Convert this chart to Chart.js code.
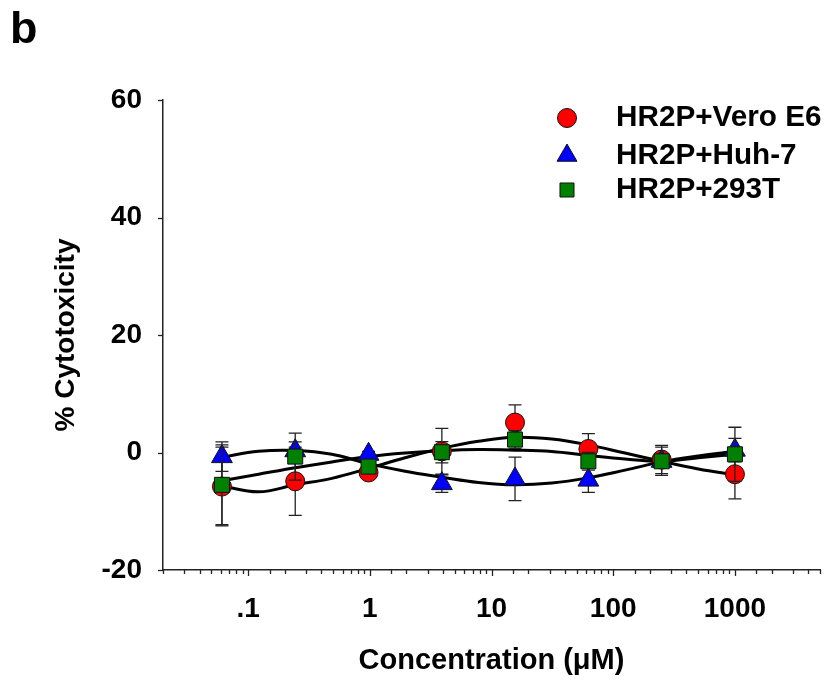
<!DOCTYPE html>
<html>
<head>
<meta charset="utf-8">
<script src="https://cdn.jsdelivr.net/npm/chart.js@4.4.1/dist/chart.umd.min.js"></script>
<style>
html,body{margin:0;padding:0;background:#fff;}
#wrap{position:relative;width:827px;height:681px;}
canvas{display:block;}
</style>
</head>
<body>
<div id="wrap"><canvas id="c" width="827" height="681"></canvas></div>
<script>
// ---------- data ----------
const panelLabel = 'b';
const concentrations = [0.061, 0.244, 0.977, 3.91, 15.6, 62.5, 250, 1000];

const seriesNames = ['HR2P+Vero E6', 'HR2P+Huh-7', 'HR2P+293T'];
const veroValues  = [-5.8, -4.9, -3.4, 0.2, 5.1, 0.6, -1.2, -3.7];
const veroErrors  = [6.7, 5.8, 0.8, 3.9, 3.0, 2.6, 2.4, 4.2];
const huhValues   = [-0.7, 0.3, -0.3, -5.3, -4.5, -4.7, -1.5, 0.4];
const huhErrors   = [2.5, 1.5, 0.5, 1.5, 3.7, 2.1, 1.0, 2.0];
const t293Values  = [-5.5, -0.7, -2.4, 0.05, 2.2, -1.5, -1.5, -0.3];
const t293Errors  = [6.8, 4.0, 1.0, 1.8, 1.5, 1.5, 2.4, 4.6];

// fitted curves
const fitX      = [0.061, 0.122, 0.244, 0.488, 0.977, 1.95, 3.91, 7.81, 15.6, 31.3, 62.5, 125, 250, 500, 1000];
const veroFit   = [-5.7, -6.7, -5.5, -4.4, -2.7, -0.9, 0.7, 1.9, 2.6, 2.3, 1.3, -0.1, -1.5, -2.8, -3.8];
const huhFit    = [-0.8, 0.2, 0.35, -0.3, -1.9, -3.2, -4.2, -5.1, -5.5, -5.2, -4.3, -3.0, -1.6, -0.6, 0.2];
const t293Fit   = [-4.8, -3.7, -2.6, -1.6, -0.7, -0.1, 0.3, 0.5, 0.4, 0.15, -0.5, -1.1, -1.5, -0.9, -0.3];

const xTickValues = [0.1, 1, 10, 100, 1000];
const xTickLabels = ['.1', '1', '10', '100', '1000'];
const yTickValues = [-20, 0, 20, 40, 60];
const yTickLabels = ['-20', '0', '20', '40', '60'];
const xTitle = 'Concentration (\u03BCM)';
const yTitle = '% Cytotoxicity';

// ---------- chart ----------
const FONT = '"Liberation Sans", Arial, Helvetica, sans-serif';
Chart.defaults.font.family = FONT;
Chart.defaults.font.weight = 'bold';
Chart.defaults.color = '#000';

function pts(xs, ys) { return xs.map((x, i) => ({x: x, y: ys[i]})); }
function pairs(xs, ys, es) { return xs.map((x, i) => ({x: x, y: ys[i], err: es[i]})); }

const markerStyles = [
  {pointStyle: 'circle', radius: 9.5, legendRadius: 9.5, color: '#FF0000'},
  {pointStyle: 'triangle', radius: 12, legendRadius: 11.5, color: '#0000FF'},
  {pointStyle: 'rect', radius: 10.6, legendRadius: 9.9, color: '#008000'}
];

function markerDataset(i, vals, errs, order) {
  const m = markerStyles[i];
  return {
    label: seriesNames[i],
    data: pairs(concentrations, vals, errs),
    showLine: false,
    pointStyle: m.pointStyle,
    pointRadius: m.radius,
    pointHoverRadius: m.radius,
    pointBackgroundColor: m.color,
    pointBorderColor: '#111',
    pointBorderWidth: 1,
    order: order,
    isMarker: true
  };
}
function fitDataset(ys, order) {
  return {
    label: '',
    data: pts(fitX, ys),
    showLine: true,
    pointRadius: 0,
    borderColor: '#000',
    borderWidth: 3,
    tension: 0.4,
    fill: false,
    order: order,
    isMarker: false
  };
}

const errorBarPlugin = {
  id: 'errorBars',
  beforeDatasetDraw(chart, args) {
    const ds = chart.data.datasets[args.index];
    if (!ds.isMarker) return;
    const ctx = chart.ctx, xs = chart.scales.x, ys = chart.scales.y;
    ctx.save();
    ctx.strokeStyle = '#222';
    ctx.lineWidth = 1.3;
    ds.data.forEach(p => {
      const px = xs.getPixelForValue(p.x);
      const top = ys.getPixelForValue(p.y + p.err);
      const bot = ys.getPixelForValue(p.y - p.err);
      ctx.beginPath();
      ctx.moveTo(px, top); ctx.lineTo(px, bot);
      ctx.moveTo(px - 6.5, top); ctx.lineTo(px + 6.5, top);
      ctx.moveTo(px - 6.5, bot); ctx.lineTo(px + 6.5, bot);
      ctx.stroke();
    });
    ctx.restore();
  }
};

function isMajorX(v) {
  return xTickValues.some(t => Math.abs(t - v) / t < 1e-6);
}

const decorPlugin = {
  id: 'decor',
  afterDraw(chart) {
    const ctx = chart.ctx, xs = chart.scales.x, ys = chart.scales.y;
    ctx.save();
    ctx.strokeStyle = '#222';
    ctx.lineWidth = 1.3;
    // x ticks (major and minor)
    xs.ticks.forEach(t => {
      const px = Math.round(xs.getPixelForValue(t.value)) + 0.5;
      const len = isMajorX(t.value) ? 6 : 4;
      ctx.beginPath();
      ctx.moveTo(px, xs.top); ctx.lineTo(px, xs.top + len);
      ctx.stroke();
    });
    // y ticks
    ys.ticks.forEach(t => {
      const py = Math.round(ys.getPixelForValue(t.value)) + 0.5;
      ctx.beginPath();
      ctx.moveTo(ys.right - 5, py); ctx.lineTo(ys.right, py);
      ctx.stroke();
    });
    // legend
    const lx = 567, tx = 616, rowsY = [118, 155.5, 190];
    chart.data.datasets.filter(d => d.isMarker).forEach((d, i) => {
      const m = markerStyles[i];
      ctx.fillStyle = m.color;
      ctx.strokeStyle = '#111';
      ctx.lineWidth = 1;
      Chart.helpers.drawPoint(ctx, {pointStyle: m.pointStyle, radius: m.legendRadius, rotation: 0, borderWidth: 1}, lx, rowsY[i]);
      ctx.fillStyle = '#000';
      ctx.font = 'bold 29.7px ' + FONT;
      ctx.textAlign = 'left';
      ctx.textBaseline = 'middle';
      ctx.fillText(d.label, tx, rowsY[i]);
    });
    // panel label
    ctx.fillStyle = '#000';
    ctx.font = 'bold 45px ' + FONT;
    ctx.textAlign = 'left';
    ctx.textBaseline = 'alphabetic';
    ctx.fillText(panelLabel, 10, 43);
    ctx.restore();
  }
};

new Chart(document.getElementById('c'), {
  type: 'scatter',
  data: {
    datasets: [
      markerDataset(0, veroValues, veroErrors, 2),
      markerDataset(1, huhValues, huhErrors, 1),
      markerDataset(2, t293Values, t293Errors, 0),
      fitDataset(veroFit, 5),
      fitDataset(huhFit, 4),
      fitDataset(t293Fit, 3)
    ]
  },
  options: {
    responsive: false,
    animation: false,
    devicePixelRatio: 1,
    layout: {autoPadding: false, padding: {left: 0, top: 100, right: 7, bottom: 0}},
    plugins: {legend: {display: false}, tooltip: {enabled: false}, title: {display: false}},
    scales: {
      x: {
        type: 'logarithmic',
        min: 0.02, max: 5000,
        grid: {display: false, drawTicks: true, tickLength: 20},
        border: {display: true, color: '#222', width: 1.5},
        ticks: {
          autoSkip: false, maxRotation: 0, minRotation: 0, padding: 2,
          font: {size: 28, weight: 'bold'}, color: '#000',
          callback: function(v) {
            const i = xTickValues.findIndex(t => Math.abs(t - v) / t < 1e-6);
            return i >= 0 ? xTickLabels[i] : '';
          }
        },
        title: {display: true, text: xTitle, font: {size: 29, weight: 'bold'}, color: '#000', padding: {top: 0, bottom: 3}},
        afterFit(s) { s.height = 111; s.paddingLeft = 0; s.paddingRight = 0; }
      },
      y: {
        min: -20, max: 60,
        grid: {display: false, drawTicks: false},
        border: {display: true, color: '#222', width: 1.5},
        ticks: {
          stepSize: 20, padding: 21,
          font: {size: 28, weight: 'bold'}, color: '#000',
          callback: function(v) {
            const i = yTickValues.indexOf(v);
            return i >= 0 ? yTickLabels[i] : '';
          }
        },
        title: {display: true, text: yTitle, font: {size: 28, weight: 'bold'}, color: '#000', padding: {top: 49, bottom: 0}},
        afterFit(s) { s.width = 163; }
      }
    }
  },
  plugins: [errorBarPlugin, decorPlugin]
});
</script>
</body>
</html>
